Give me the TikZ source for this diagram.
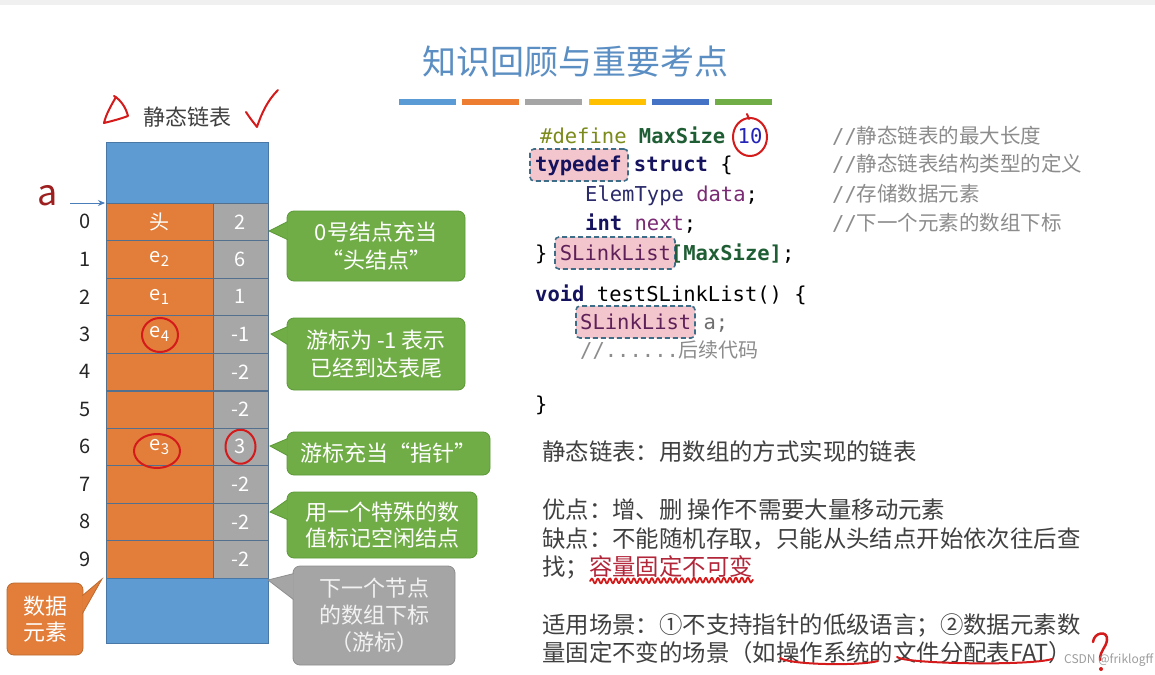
\documentclass[tikz,border=0pt]{standalone}
\usepackage{fontspec}
\setmainfont{Noto Sans CJK SC}
\setmonofont{DejaVu Sans Mono}
\newfontfamily\cjk{Noto Sans CJK SC}
\usetikzlibrary{arrows.meta}
\usetikzlibrary{decorations.pathmorphing}

\definecolor{titleblue}{HTML}{5B8EC2}
\definecolor{bara}{HTML}{5B9BD5}
\definecolor{barb}{HTML}{ED7D31}
\definecolor{barc}{HTML}{A5A5A5}
\definecolor{bard}{HTML}{FFC000}
\definecolor{bare}{HTML}{4472C4}
\definecolor{barf}{HTML}{70AD47}
\definecolor{cellblue}{HTML}{5E9BD3}
\definecolor{blueline}{HTML}{4A78A6}
\definecolor{cellline}{HTML}{54708F}
\definecolor{cellorange}{HTML}{E27E3A}
\definecolor{cellgray}{HTML}{A7A7A7}
\definecolor{callgreen}{HTML}{70AD47}
\definecolor{greenline}{HTML}{5C9A36}
\definecolor{callgray}{HTML}{A5A5A5}
\definecolor{grayline}{HTML}{8E8E8E}
\definecolor{callorange}{HTML}{E27E3A}
\definecolor{orangeline}{HTML}{BD6A2F}
\definecolor{penred}{HTML}{D41A1A}
\definecolor{labelred}{HTML}{9E1F1F}
\definecolor{txtgray}{HTML}{404040}
\definecolor{arrowblue}{HTML}{4A7EBB}
\definecolor{cdef}{HTML}{7B8A1A}
\definecolor{cmac}{HTML}{1F5E34}
\definecolor{cnum}{HTML}{2424B8}
\definecolor{ckey}{HTML}{15125E}
\definecolor{ctype}{HTML}{2B2A6B}
\definecolor{cfld}{HTML}{7A2B74}
\definecolor{cslink}{HTML}{5E2058}
\definecolor{cgray}{HTML}{6E6E6E}
\definecolor{ccom}{HTML}{8C8C8C}
\definecolor{hlpink}{HTML}{F3C5CC}
\definecolor{hlline}{HTML}{3E6D88}
\definecolor{warnred}{HTML}{B2263A}

\newcommand{\fsz}[2]{\fontsize{#1}{#2}\selectfont}
\newcommand{\sub}[1]{e\raisebox{-0.35ex}{\fsz{15}{15}#1}}

% tail of a speech box, on its west side
\newcommand{\calltail}[6]{%
  \fill[#5] (#2) -- ([xshift=1pt,yshift=-#3pt]#1.north west)
    -- ([xshift=1pt,yshift=-#4pt]#1.north west) -- cycle;
  \draw[#6, line width=0.8pt] ([xshift=1pt,yshift=-#3pt]#1.north west)
    -- (#2) -- ([xshift=1pt,yshift=-#4pt]#1.north west);}

\tikzset{
  titletext/.style={text=titleblue, font=\fsz{34}{40}},
  headtext/.style={text=txtgray, font=\fsz{22}{26}},
  bluecell/.style={draw=blueline, fill=cellblue, minimum width=162pt, inner sep=0},
  datacell/.style={draw=cellline, fill=cellorange, minimum width=107pt, minimum height=37.5pt,
    inner sep=0, text=white, font=\fsz{20}{24}},
  nextcell/.style={draw=cellline, fill=cellgray, minimum width=55pt, minimum height=37.5pt,
    inner sep=0, text=white, font=\fsz{20}{24}},
  idx/.style={text=black!85, font=\fsz{20}{24}},
  alabel/.style={text=labelred, font=\fsz{36}{40}},
  aptr/.style={draw=arrowblue, line width=1pt, -{Stealth[length=7pt,width=6pt]}},
  gbox/.style={draw=greenline, fill=callgreen, line width=0.8pt, rounded corners=7pt,
    text=white, align=center, inner sep=0, font=\fsz{22}{28}},
  graybox/.style={gbox, draw=grayline, fill=callgray, text=white!95!black, font=\fsz{22}{27}},
  obox/.style={gbox, draw=orangeline, fill=callorange, font=\fsz{22}{26}},
  redpen/.style={draw=penred, line width=2pt, line cap=round, line join=round},
  code/.style={anchor=base west, inner sep=0, font=\ttfamily\fsz{20.5}{24}},
  comment/.style={anchor=base west, inner sep=0, text=ccom, font=\cjk\fsz{20.5}{24}},
  hlbox/.style={draw=hlline, fill=hlpink, line width=1.6pt, dash pattern=on 5pt off 3pt,
    rounded corners=4pt, minimum height=32pt, inner sep=0},
  body/.style={anchor=west, inner sep=0, text=txtgray, font=\fsz{23.4}{28}},
}

\begin{document}
\begin{tikzpicture}[x=1pt,y=-1pt]
\fill[white] (0,0) rectangle (1155,674);
\useasboundingbox (0,0) rectangle (1155,674);
\fill[black!6] (0,0) rectangle (1155,5);

% title and bars
\node[titletext] (title) at (575,62) {知识回顾与重要考点};
\foreach \c [count=\k from 0] in {bara,barb,barc,bard,bare,barf}
  \fill[\c] ({399+63.2*\k},99) rectangle ++(57,6);

% the array
\node[headtext] (head) at (187,117) {静态链表};
\draw[redpen] (116,97) .. controls (112,104) and (106,114) .. (104,123)
  .. controls (112,121) and (120,119) .. (128,116)
  .. controls (126,108) and (121,100) .. (114,96);
\draw[redpen] (246,112) .. controls (250,118) .. (257,127)
  .. controls (262,112) and (268,100) .. (278,90);

\node[bluecell, minimum height=61pt] (top) at (187,172.5) {};
\foreach \i/\d/\n in {0/头/2,1/\sub{2}/6,2/\sub{1}/1,
    3/\sub{4}/-1,4//-2,5//-2,6/\sub{3}/3,7//-2,8//-2,9//-2} {
  \node[datacell] (d\i) at (159.5,{221.75+37.5*\i}) {\d};
  \node[nextcell] (n\i) at (240.5,{221.75+37.5*\i}) {\n};
  \node[idx] (i\i) at (85,{221.75+37.5*\i}) {\i};
}
\draw[cellline, line width=1.6pt] (d4.south west) -- (n4.south east);
\node[bluecell, minimum height=65pt] (bottom) at (187,610.5) {};

\node[alabel] (a) at (48,196) {a};
\coordinate (atail) at (70,203);
\coordinate (ahead) at (105,203);
\draw[aptr] (atail) -- (ahead);

\draw[redpen] (160,335) ellipse [x radius=18pt, y radius=17pt];
\draw[redpen] (157,451) ellipse [x radius=23pt, y radius=17pt];
\draw[redpen] (n6) ellipse [x radius=15pt, y radius=17pt];

% speech boxes
\node[gbox, minimum width=178pt, minimum height=70pt] (c1) at (376,246) {0号结点充当\\“头结点”};
\coordinate (t1) at (269,231);
\calltail{c1}{t1}{11}{29}{callgreen}{greenline}
\node[gbox, minimum width=178pt, minimum height=72pt] (c2) at (376,354) {游标为 -1 表示\\已经到达表尾};
\coordinate (t2) at (271,334);
\calltail{c2}{t2}{9}{27}{callgreen}{greenline}
\node[gbox, minimum width=203pt, minimum height=43pt] (c3) at (388.5,453.5) {游标充当“指针”};
\coordinate (t3) at (270,446);
\calltail{c3}{t3}{7}{24}{callgreen}{greenline}
\node[gbox, minimum width=190pt, minimum height=66pt, font=\fsz{22}{26}] (c4) at (382,525) {用一个特殊的数\\值标记空闲结点};
\coordinate (t4) at (270,512);
\calltail{c4}{t4}{8}{28}{callgreen}{greenline}
\node[graybox, minimum width=162pt, minimum height=99pt] (c5) at (374,615.5) {下一个节点\\的数组下标\\（游标）};
\coordinate (t5) at (268,580);
\calltail{c5}{t5}{8}{34}{callgray}{grayline}
\node[obox, minimum width=76pt, minimum height=72pt] (c6) at (45,619) {数据\\元素};
\coordinate (t6) at (102,579);
\fill[callorange] (t6) -- ([xshift=-1pt,yshift=-13pt]c6.north east)
  -- ([xshift=-1pt,yshift=-31pt]c6.north east) -- cycle;
\draw[orangeline, line width=0.8pt] ([xshift=-1pt,yshift=-13pt]c6.north east)
  -- (t6) -- ([xshift=-1pt,yshift=-31pt]c6.north east);

% code
\node[hlbox, minimum width=98pt] (hl1) at (579,165) {};
\node[hlbox, minimum width=120pt] (hl2) at (615,253) {};
\node[hlbox, minimum width=119pt] (hl3) at (635.5,322) {};
\node[code] (l1) at (540,143) {\textcolor{cdef}{\#define} \textcolor{cmac}{\bfseries MaxSize} \textcolor{cnum}{10}};
\node[code] (l2) at (535,171) {\textcolor{ckey}{\bfseries typedef} \textcolor{ckey}{\bfseries struct} \{};
\node[code] (l3) at (585,201) {\textcolor{ctype}{ElemType} \textcolor{cfld}{data};};
\node[code] (l4) at (585,230) {\textcolor{ckey}{\bfseries int} \textcolor{cfld}{next};};
\node[code] (l5) at (535,260) {\} \textcolor{cslink}{SLinkList}\textcolor{cmac}{\bfseries [MaxSize]};};
\node[code] (l6) at (535,301) {\textcolor{ckey}{\bfseries void} testSLinkList() \{};
\node[code] (l7) at (580,329) {\textcolor{cslink}{SLinkList} \textcolor{cgray}{a;}};
\node[code] (l8) at (580,357) {\textcolor{ccom}{//......{\cjk\fsz{20}{24}后续代码}}};
\node[code] (l9) at (535,411) {\}};
\node[comment] (k1) at (832,143) {{\ttfamily\fsz{20.5}{24}//}静态链表的最大长度};
\node[comment] (k2) at (832,171) {{\ttfamily\fsz{20.5}{24}//}静态链表结构类型的定义};
\node[comment] (k3) at (832,201) {{\ttfamily\fsz{20.5}{24}//}存储数据元素};
\node[comment] (k4) at (832,230) {{\ttfamily\fsz{20.5}{24}//}下一个元素的数组下标};
\draw[redpen] (750,137) ellipse [x radius=17pt, y radius=19pt];
\draw[redpen] (749,119) -- (747,114);

% notes
\node[body] (s1) at (542,452) {静态链表：用数组的方式实现的链表};
\node[body] (s2) at (542,510) {优点：增、删 操作不需要大量移动元素};
\node[body] (s3) at (542,539) {缺点：不能随机存取，只能从头结点开始依次往后查};
\node[body] (s4) at (542,567) {找；\textcolor{warnred}{容量固定不可变}};
\node[body] (s5) at (542,625) {适用场景：①不支持指针的低级语言；②数据元素数};
\node[body] (s6) at (542,653) {量固定不变的场景（如操作系统的文件分配表FAT）};
\draw[redpen, line width=1.8pt, decorate, decoration={snake, amplitude=2.5pt, segment length=6pt}]
  (590,581) -- (753,580);
\draw[redpen] (780,658) .. controls (790,665) and (860,666) .. (878,661);
\draw[redpen] (897,657) .. controls (905,664) and (1030,666) .. (1052,659);
\draw[redpen, line width=2.5pt] (1093,642) .. controls (1094,632) and (1108,630) .. (1107,640)
  .. controls (1106,648) and (1100,650) .. (1100,660);
\fill[penred] (1101,669) circle (2pt);

\node[anchor=west, inner sep=0, text=black!45, opacity=0.85, font=\fsz{12}{14}] (mark) at (1064,660) {CSDN @friklogff};
\end{tikzpicture}
\end{document}
